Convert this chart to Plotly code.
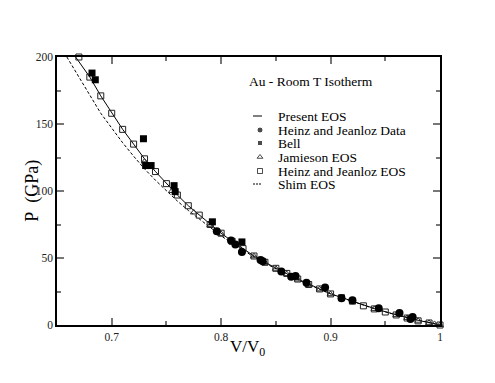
import plotly.graph_objects as go

# Present EOS (solid line)
present_v = [0.667, 0.68, 0.69, 0.70, 0.71, 0.72, 0.73, 0.74, 0.75, 0.76, 0.77, 0.78, 0.79, 0.80,
             0.81, 0.82, 0.83, 0.84, 0.85, 0.86, 0.87, 0.88, 0.89, 0.90, 0.92, 0.94, 0.96, 0.98, 1.0]
present_p = [200, 185, 171, 158, 146, 135, 124, 114.5, 105.5, 97, 89, 82, 75, 68.5,
             62.5, 57, 51.5, 46.8, 42.3, 38.3, 34.3, 30.3, 26.9, 23.3, 17.7, 12.3, 7.6, 3.5, 0]

# Shim EOS (dashed)
shim_v = [0.659, 0.67, 0.68, 0.69, 0.70, 0.71, 0.72, 0.73, 0.74, 0.75, 0.76, 0.77, 0.78, 0.79, 0.80,
          0.81, 0.82, 0.83, 0.84, 0.85, 0.86, 0.87, 0.88, 0.89, 0.90, 0.92, 0.94, 0.96, 0.98, 1.0]
shim_p = [200, 185, 171, 158, 147, 136, 126, 116.5, 108, 100, 92.5, 85.5, 79, 72.5, 66.5,
          61, 55.8, 50.8, 46.2, 41.8, 37.8, 33.8, 30, 26.6, 23.2, 17.4, 12.1, 7.5, 3.5, 0]

# Heinz and Jeanloz EOS (open squares)
hj_eos_v = [0.67, 0.68, 0.69, 0.70, 0.71, 0.72, 0.73, 0.74, 0.75, 0.76, 0.77, 0.78, 0.79, 0.80,
            0.81, 0.82, 0.83, 0.84, 0.85, 0.86, 0.87, 0.88, 0.89, 0.90, 0.91, 0.92, 0.93, 0.94,
            0.95, 0.96, 0.97, 0.98, 0.99, 1.0]
hj_eos_p = [200, 185, 171, 158, 146, 135, 124, 114.5, 105.5, 97, 89, 82, 75, 68.5,
            62.5, 57, 51.5, 46.8, 42.3, 38.5, 34.3, 30.2, 26.9, 23.2, 20.4, 17.8, 14.3, 12,
            9.7, 7.5, 5.2, 3.1, 1.5, 0]

# Jamieson EOS (open triangles)
jam_v = [0.73, 0.755, 0.775, 0.79, 0.80, 0.815, 0.83, 0.84, 0.85, 0.86, 0.87, 0.88, 0.89,
         0.90, 0.92, 0.94, 0.96, 0.97, 0.98, 0.99, 0.995, 1.0]
jam_p = [122, 100, 84, 74.5, 68, 59.5, 51.3, 46.5, 42, 38, 34, 30, 26.6,
         23, 17.5, 12, 7.4, 5.3, 3.2, 1.6, 0.8, 0]

# Heinz and Jeanloz data (filled circles)
hj_data_v = [0.796, 0.809, 0.813, 0.819, 0.836, 0.838, 0.855, 0.864, 0.868, 0.878, 0.895,
             0.910, 0.920, 0.944, 0.963, 0.973, 0.975]
hj_data_p = [70, 63, 60, 54.5, 48.5, 47.5, 40, 36, 36.5, 31.5, 28,
             20, 18.5, 12.5, 9, 4.5, 6]

# Bell (filled squares)
bell_v = [0.682, 0.685, 0.729, 0.731, 0.736, 0.757, 0.758, 0.792, 0.819]
bell_p = [188, 183, 139, 119, 119, 104, 99.5, 77, 62]

legend_labels = ["Present EOS", "Heinz and Jeanloz Data", "Bell",
                 "Jamieson EOS", "Heinz and Jeanloz EOS", "Shim EOS"]

serif = "Liberation Serif"

fig = go.Figure()
fig.add_trace(go.Scatter(x=shim_v, y=shim_p, mode="lines",
                         line=dict(color="black", width=1, dash="3px,2px")))
fig.add_trace(go.Scatter(x=present_v, y=present_p, mode="lines",
                         line=dict(color="black", width=1)))
fig.add_trace(go.Scatter(x=jam_v, y=jam_p, mode="markers",
                         marker=dict(symbol="triangle-up-open", size=6, color="#333",
                                     line=dict(width=1))))
fig.add_trace(go.Scatter(x=hj_eos_v, y=hj_eos_p, mode="markers",
                         marker=dict(symbol="square-open", size=6, color="#222",
                                     line=dict(width=1))))
fig.add_trace(go.Scatter(x=hj_data_v, y=hj_data_p, mode="markers",
                         marker=dict(symbol="circle", size=8, color="black")))
fig.add_trace(go.Scatter(x=bell_v, y=bell_p, mode="markers",
                         marker=dict(symbol="square", size=7, color="black")))

# hand-drawn legend on a pixel-space overlay axis (screen px of the plot area)
rows_y = [116, 130, 143, 157, 171, 184]
fig.add_trace(go.Scatter(x=[253, 262], y=[rows_y[0]] * 2, mode="lines",
                         line=dict(color="black", width=1), xaxis="x2", yaxis="y2"))
fig.add_trace(go.Scatter(x=[253, 262], y=[rows_y[5]] * 2, mode="lines",
                         line=dict(color="black", width=1, dash="2px,1px"),
                         xaxis="x2", yaxis="y2"))
fig.add_trace(go.Scatter(x=[260, 260, 260, 260], y=rows_y[1:5], mode="markers",
                         marker=dict(symbol=["circle", "square", "triangle-up-open", "square-open"],
                                     size=[6, 5, 5, 5], color="black", line=dict(width=1)),
                         xaxis="x2", yaxis="y2"))
for label, yy in zip(legend_labels, rows_y):
    fig.add_annotation(x=276, y=yy, xref="x2", yref="y2", text=label, showarrow=False,
                       xanchor="left", yanchor="middle", font=dict(family=serif, size=13.5, color="black"))
fig.add_annotation(x=247, y=81, xref="x2", yref="y2", text="Au - Room T Isotherm", showarrow=False,
                   xanchor="left", yanchor="middle", font=dict(family=serif, size=13.5, color="black"))

# axis titles
fig.add_annotation(x=-0.066, y=0.5, xref="paper", yref="paper", text="P\u00a0\u00a0(GPa)", textangle=-90,
                   showarrow=False, xanchor="center", yanchor="middle",
                   font=dict(family=serif, size=18, color="black"))
fig.add_annotation(x=0.497, y=-0.084, xref="paper", yref="paper", text="V/V<sub>0</sub>",
                   showarrow=False, xanchor="center", yanchor="middle",
                   font=dict(family=serif, size=17, color="black"))

axis_common = dict(showline=True, linecolor="black", linewidth=1.5, mirror="allticks",
                   ticks="inside", ticklen=7, tickwidth=1.5, tickcolor="#777",
                   showgrid=False, zeroline=False, automargin=False,
                   tickfont=dict(family=serif, size=11.5, color="#222"))

fig.update_layout(
    width=495, height=383,
    margin=dict(l=49, r=63, t=49, b=66),
    font=dict(family=serif, color="black"),
    plot_bgcolor="white", paper_bgcolor="white",
    showlegend=False,
    xaxis=dict(range=[0.65, 1.0], tickvals=[0.7, 0.8, 0.9, 1.0], ticktext=["0.7", "0.8", "0.9", "1"],
               minor=dict(tickvals=[0.75, 0.85, 0.95], ticks="inside", ticklen=4, tickcolor="#777"),
               **axis_common),
    yaxis=dict(range=[0, 200], tickvals=[0, 50, 100, 150, 200],
               minor=dict(tickvals=[25, 75, 125, 175], ticks="inside", ticklen=4, tickcolor="#777"),
               **axis_common),
    xaxis2=dict(overlaying="x", range=[57, 440], visible=False, fixedrange=True),
    yaxis2=dict(overlaying="y", range=[325, 57], visible=False, fixedrange=True),
)
fig.update_traces(cliponaxis=False)

fig.write_html("out.html")
